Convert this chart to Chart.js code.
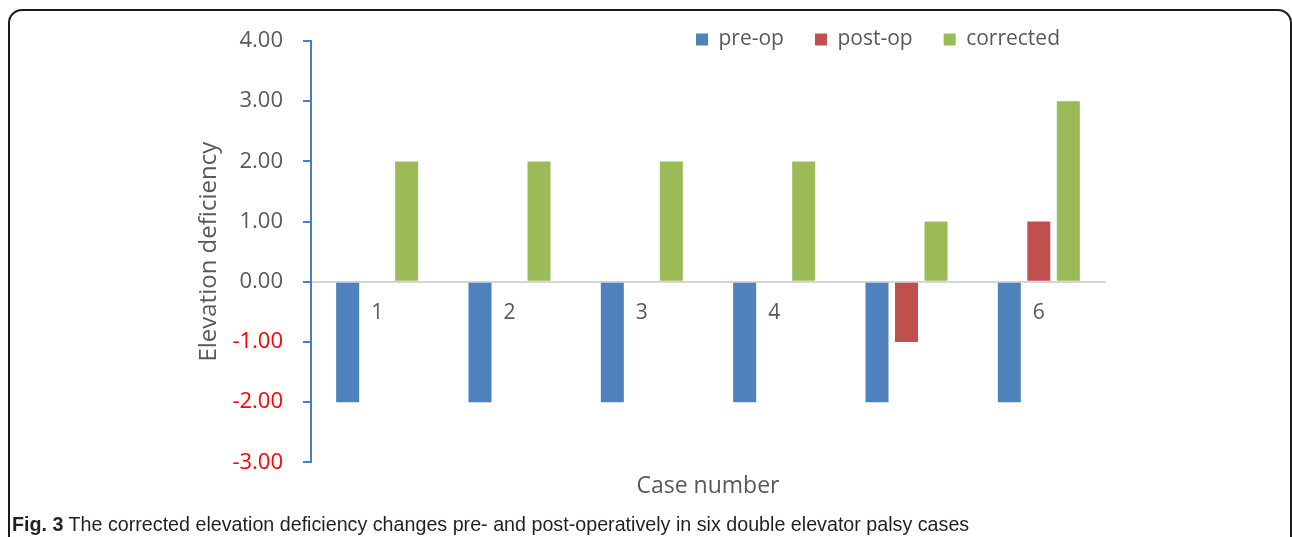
<!DOCTYPE html>
<html>
<head>
<meta charset="utf-8">
<script src="https://cdn.jsdelivr.net/npm/chart.js@4"></script>
<style>
  html, body { margin: 0; padding: 0; background: #ffffff; overflow: hidden; }
  #wrap { position: absolute; left: 0; top: 0; width: 1292px; height: 537px; }
  #frame { position: absolute; left: 8px; top: 9px; width: 1284px; height: 600px;
           border: 2px solid #1c1c1c; border-radius: 14px; box-sizing: border-box; }
  #caption { position: absolute; left: 12px; top: 513px; white-space: nowrap;
             font-family: "Liberation Sans Narrow", "Liberation Sans", Arial, sans-serif;
             font-size: 19.7px; color: #231f20; }
  #caption b { font-weight: bold; }
</style>
</head>
<body>
<div id="frame"></div>
<div id="wrap"><canvas id="c"></canvas></div>
<div id="caption"><b>Fig. 3</b> The corrected elevation deficiency changes pre- and post-operatively in six double elevator palsy cases</div>
<script>
const categories = ["1", "2", "3", "4", "5", "6"];
const preOp = [-2, -2, -2, -2, -2, -2];
const postOp = [0, 0, 0, 0, -1, 1];
const corrected = [2, 2, 2, 2, 1, 3];
const seriesNames = ["pre-op", "post-op", "corrected"];
const yMin = -3, yMax = 4, yStep = 1;

const FONT = "'Open Sans', 'Noto Sans', sans-serif";
const GREY = '#595959';
const AXIS_BLUE = '#4a7cc7';

const legendNudge = {
  id: 'legendNudge',
  afterLayout(chart) {
    const l = chart.legend;
    if (!l) return;
    l.top += 19; l.bottom += 19;
    l.left -= 14; l.right -= 14;
  }
};

new Chart(document.getElementById('c'), {
  type: 'bar',
  data: {
    labels: categories,
    datasets: [
      { label: seriesNames[0], data: preOp, backgroundColor: '#4F81BD' },
      { label: seriesNames[1], data: postOp, backgroundColor: '#C0504D' },
      { label: seriesNames[2], data: corrected, backgroundColor: '#9BBB59' }
    ]
  },
  options: {
    responsive: true,
    maintainAspectRatio: false,
    animation: false,
    datasets: { bar: { categoryPercentage: 0.669, barPercentage: 0.78, borderWidth: 0 } },
    layout: { padding: { left: 184, right: 187, top: -21, bottom: 27 } },
    plugins: {
      legend: {
        position: 'top',
        align: 'end',
        fullSize: false,
        labels: {
          boxWidth: 12, boxHeight: 12, padding: 31,
          color: GREY,
          font: { family: FONT, size: 21 }
        }
      },
      title: {
        display: true,
        position: 'bottom',
        fullSize: false,
        text: 'Case number',
        color: GREY,
        font: { family: FONT, size: 23, weight: 'normal' },
        padding: { top: 10, bottom: 10 }
      },
      tooltip: { enabled: false }
    },
    scales: {
      x: {
        type: 'category',
        position: { y: 0 },
        offset: true,
        grid: { display: false, drawTicks: false },
        border: { display: true, color: '#d6d6d6', width: 2 },
        ticks: { color: GREY, padding: 19, font: { family: FONT, size: 21 }, maxRotation: 0 }
      },
      y: {
        type: 'linear',
        position: 'left',
        min: yMin, max: yMax,
        afterFit(scale) { scale.width = 127; },
        grid: { drawOnChartArea: false, drawTicks: true, tickLength: 8, color: AXIS_BLUE, lineWidth: 2 },
        border: { display: true, color: AXIS_BLUE, width: 2 },
        ticks: {
          stepSize: yStep,
          padding: 20,
          font: { family: FONT, size: 22 },
          color: (ctx) => (ctx.tick && ctx.tick.value < 0 ? '#ff0000' : GREY),
          callback: (v) => Number(v).toFixed(2)
        },
        title: {
          display: true,
          text: 'Elevation deficiency',
          color: GREY,
          font: { family: FONT, size: 24 },
          padding: { top: 11, bottom: 0 }
        }
      }
    }
  },
  plugins: [legendNudge]
});
</script>
</body>
</html>
